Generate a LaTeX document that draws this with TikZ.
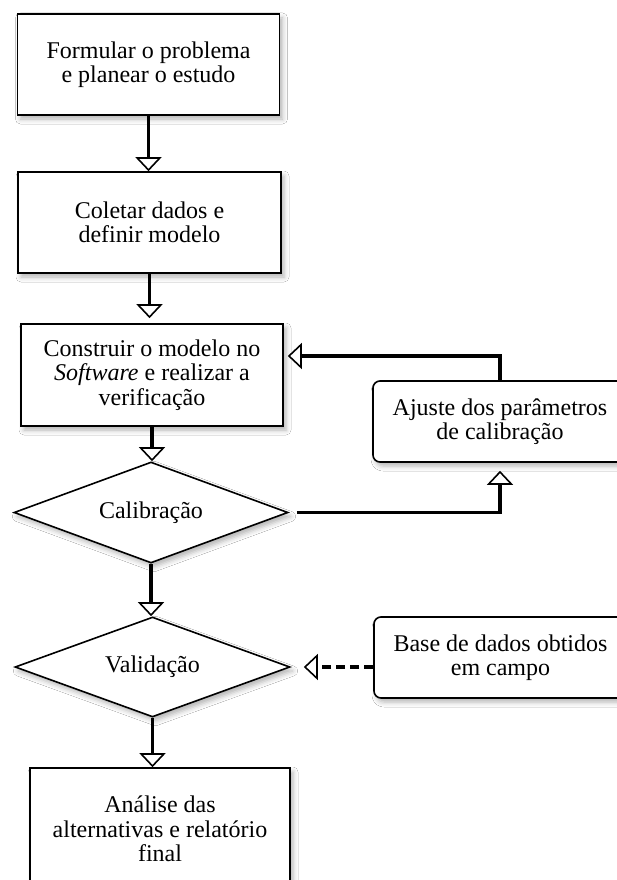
\documentclass[tikz,border=0pt]{standalone}
\usepackage{fontspec}
\setmainfont{Liberation Serif}
\usepackage{xcolor}
\usepackage{tikz}
\usetikzlibrary{shapes.geometric,arrows.meta,shadows.blur}

\begin{document}
\begin{tikzpicture}[x=1pt, y=-1pt,
    etapa/.style={draw, line width=1.6pt, fill=white, inner sep=0pt,
      font=\fontsize{24}{24.5}\selectfont,
      blur shadow={shadow xshift=3pt, shadow yshift=-4pt, shadow blur radius=5pt, shadow opacity=30}},
    decisao/.style={etapa, diamond, aspect=2.7},
    nota/.style={etapa, rounded corners=7pt},
    fluxo/.style={line width=3.2pt, -{Triangle[fill=white, length=14pt, width=26pt, line width=1.6pt]}}]
    \path[use as bounding box, fill=white] (0, 0) rectangle (617, 880);

    % Step 1
    \node[etapa, minimum width=262pt, minimum height=101pt] (formular) at (148.5, 64.5) {
      \begin{minipage}{250pt}
        \centering
        Formular o problema \\
        e planear o estudo
      \end{minipage}
    };

    % Step 2
    \node[etapa, minimum width=263pt, minimum height=101pt] (coletar) at (149.5, 222.5) {
      \begin{minipage}{250pt}
        \centering
        Coletar dados e \\
        definir modelo
      \end{minipage}
    };

    % Step 3
    \node[etapa, minimum width=262pt, minimum height=102pt] (construir) at (152, 375) {
      \begin{minipage}{250pt}
        \centering
        Construir o modelo no \\
        \textit{Software} e realizar a \\
        verificação
      \end{minipage}
    };

    % Decisions
    \node[decisao, minimum width=274pt, minimum height=101pt] (calibracao) at (151, 512.5) {Calibração};
    \node[decisao, minimum width=275pt, minimum height=100pt] (validacao) at (152.5, 667) {Validação};

    % Final step
    \node[etapa, minimum width=260pt, minimum height=122pt] (final) at (160, 829) {
      \begin{minipage}{250pt}
        \centering
        Análise das \\
        alternativas e relatório \\
        final
      \end{minipage}
    };

    % Side boxes
    \node[nota, minimum width=254pt, minimum height=81pt] (ajuste) at (500, 421.5) {
      \begin{minipage}{245pt}
        \centering
        Ajuste dos parâmetros \\
        de calibração
      \end{minipage}
    };
    \node[nota, minimum width=253pt, minimum height=81pt] (base) at (500.5, 657.5) {
      \begin{minipage}{245pt}
        \centering
        Base de dados obtidos \\
        em campo
      \end{minipage}
    };

    % Arrows
    \draw[fluxo] (formular.south) -- (formular.south |- coletar.north);
    \draw[fluxo, shorten >=5pt] (coletar.south) -- (coletar.south |- construir.north);
    \draw[fluxo] (construir.south) -- (construir.south |- calibracao.north);
    \draw[fluxo] (calibracao.south) -- (calibracao.south |- validacao.north);
    \draw[fluxo] (validacao.south) -- (validacao.south |- final.north);
    \draw[fluxo, shorten <=8pt, shorten >=8pt] (calibracao.east) -| (ajuste.south);
    \draw[fluxo, shorten >=4pt] (ajuste.north) |- ([yshift=19pt]construir.east);
    \draw[fluxo, dash pattern=on 9pt off 5pt, shorten >=13pt] (validacao.east -| base.west) -- (validacao.east);
  \end{tikzpicture}
\end{document}
